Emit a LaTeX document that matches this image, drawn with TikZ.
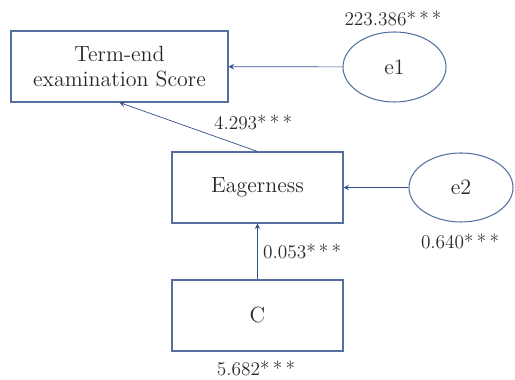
\documentclass[tikz,border=0pt]{standalone}
\usetikzlibrary{shapes,arrows,positioning}
\usepackage{xcolor}
\definecolor{boxblue}{RGB}{84,112,160}
\definecolor{lineblue}{RGB}{50,78,140}
\definecolor{textgray}{RGB}{40,40,40}

\begin{document}
\begin{tikzpicture}
      \tikzstyle{var} = [rectangle, draw=boxblue, semithick, minimum width=3.42cm, minimum height=1.42cm, inner sep=0pt, font=\fontsize{12.5}{14}\selectfont, text=textgray]
      \tikzstyle{err} = [ellipse, draw=boxblue, semithick, minimum width=2.06cm, minimum height=1.4cm, inner sep=0pt, font=\fontsize{12.5}{14}\selectfont, text=textgray]
      \tikzstyle{coef} = [font=\fontsize{11}{13}\selectfont, text=textgray, inner sep=1pt]
      \tikzstyle{path} = [-stealth, lineblue]

      \useasboundingbox (0,0) rectangle (10.3,7.6);

      \node[var, minimum width=4.34cm, align=center] (score) at (2.39,6.27) {Term-end\\examination Score};
      \node[err] (e1) at (7.89,6.26) {e1};
      \node[var] (eager) at (5.15,3.85) {Eagerness};
      \node[err, minimum width=2.08cm, minimum height=1.38cm] (e2) at (9.22,3.85) {e2};
      \node[var] (c) at (5.15,1.29) {C};

      \node[coef] (v1) at (7.86,7.24) {223.386*\,*\,*};
      \node[coef] (v2) at (9.20,2.78) {0.640*\,*\,*};
      \node[coef] (v3) at (5.12,0.24) {5.682*\,*\,*};

      \draw[path] (e1) -- (score);
      \draw[path] (e2) -- (eager);
      \draw[path] (eager.north) -- (score.south) node[coef, pos=0.33, anchor=south west, yshift=2pt] (b1) {4.293*\,*\,*};
      \draw[path] (c) -- (eager) node[coef, midway, right=2pt] (b2) {0.053*\,*\,*};
    \end{tikzpicture}
\end{document}
